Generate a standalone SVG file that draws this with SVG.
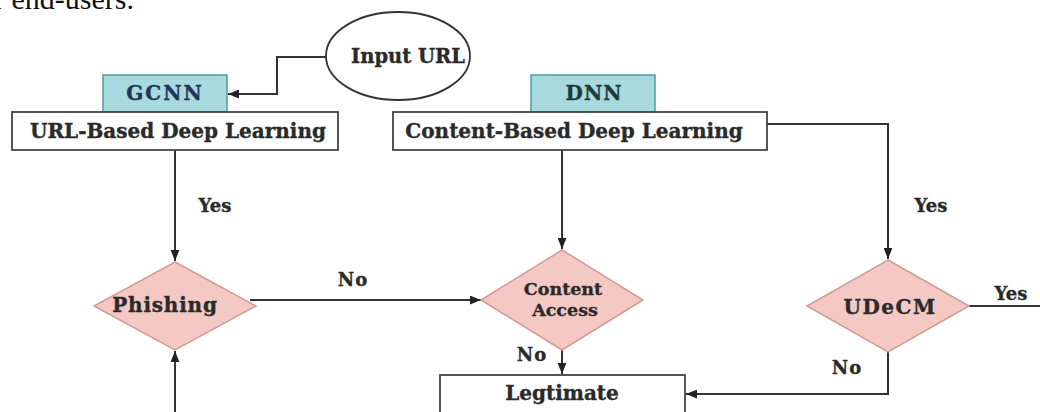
<svg xmlns="http://www.w3.org/2000/svg" width="1040" height="412" viewBox="0 0 1040 412">
  <defs>
    <marker id="arrow" viewBox="0 0 10 8" refX="10" refY="4" markerWidth="11" markerHeight="9" markerUnits="userSpaceOnUse" orient="auto">
      <path d="M0,0 L10,4 L0,8 z" fill="#222"/>
    </marker>
    <style>
      .lbl { font-family: "DejaVu Serif", "Liberation Serif", serif; font-weight: bold; fill: #2a2a2a; stroke: #2a2a2a; stroke-width: 0.35; text-anchor: middle; }
      .model { fill: #a8d9de; stroke: #4f9ca3; stroke-width: 1.5; }
      .box { fill: #ffffff; stroke: #444; stroke-width: 1.8; }
      .dec { fill: #f4c9c4; stroke: #d49a92; stroke-width: 1.5; }
      .wire { fill: none; stroke: #333; stroke-width: 2; }
      .wire.arr { marker-end: url(#arrow); }
    </style>
  </defs>

  <rect width="1040" height="412" fill="#ffffff"/>

  <!-- tail of the preceding paragraph -->
  <text x="-6" y="9" font-family="Liberation Serif, serif" font-size="30" fill="#111">r end-users.</text>

  <g id="connectors">
    <path class="wire arr" d="M327,57 H277 V94 H228"/>
    <path class="wire arr" d="M175,150 V261"/>
    <path class="wire arr" d="M562,150 V249"/>
    <path class="wire arr" d="M767,124 H888 V259"/>
    <path class="wire arr" d="M250,300 H481"/>
    <path class="wire arr" d="M562,350 V374"/>
    <path class="wire arr" d="M888,352 V394 H686"/>
    <path class="wire" d="M969,306 H1040"/>
    <path class="wire arr" d="M175,412 V351"/>
    <text class="lbl" x="215" y="212" font-size="18">Yes</text>
    <text class="lbl" x="931" y="212" font-size="18">Yes</text>
    <text class="lbl" x="1011" y="300" font-size="18">Yes</text>
    <text class="lbl" x="353" y="286" font-size="18" letter-spacing="1">No</text>
    <text class="lbl" x="532" y="361" font-size="18" letter-spacing="1">No</text>
    <text class="lbl" x="847" y="374" font-size="18" letter-spacing="1">No</text>
  </g>

  <g id="input-url">
    <ellipse cx="398" cy="56" rx="72" ry="44" fill="#ffffff" stroke="#333" stroke-width="1.8"/>
    <text class="lbl" x="408" y="63" font-size="19.5">Input URL</text>
  </g>

  <g id="gcnn">
    <rect class="model" x="103" y="75" width="124" height="37"/>
    <text class="lbl" x="165" y="100" font-size="20" letter-spacing="2" style="fill:#1f3559;stroke:#1f3559">GCNN</text>
  </g>

  <g id="url-based">
    <rect class="box" x="12" y="112" width="326" height="38"/>
    <text class="lbl" x="178" y="138" font-size="20">URL-Based Deep Learning</text>
  </g>

  <g id="dnn">
    <rect class="model" x="531" y="75" width="124" height="37"/>
    <text class="lbl" x="594" y="100" font-size="20" letter-spacing="1" style="fill:#1f3a3a;stroke:#1f3a3a">DNN</text>
  </g>

  <g id="content-based">
    <rect class="box" x="393" y="112" width="374" height="38"/>
    <text class="lbl" x="574" y="138" font-size="20">Content-Based Deep Learning</text>
  </g>

  <g id="phishing">
    <polygon class="dec" points="175,262 256,306 175,350 94,306"/>
    <text class="lbl" x="165" y="312" font-size="20" letter-spacing="0.8">Phishing</text>
  </g>

  <g id="content-access">
    <polygon class="dec" points="562,250 643,300 562,350 481,300"/>
    <text class="lbl" x="563" y="295" font-size="17.5">Content</text>
    <text class="lbl" x="565" y="316" font-size="17.5">Access</text>
  </g>

  <g id="udecm">
    <polygon class="dec" points="888,260 969,306 888,352 807,306"/>
    <text class="lbl" x="890" y="314" font-size="20" letter-spacing="1.5">UDeCM</text>
  </g>

  <g id="legtimate">
    <rect class="box" x="440" y="375" width="245" height="40"/>
    <text class="lbl" x="562" y="400" font-size="20">Legtimate</text>
  </g>
</svg>
